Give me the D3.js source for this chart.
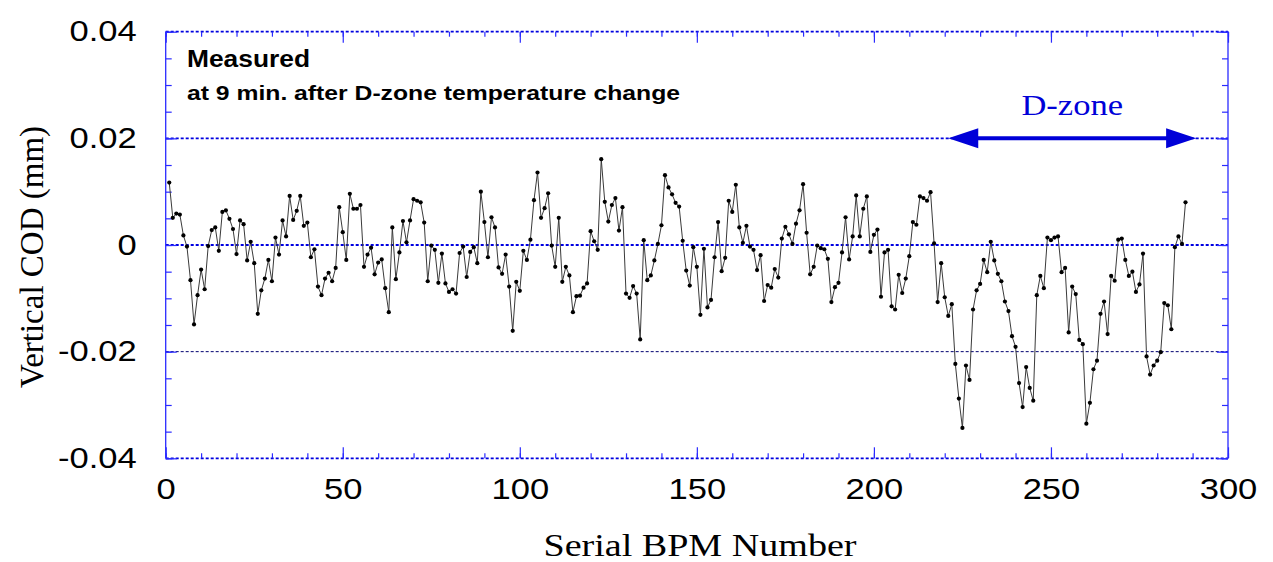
<!DOCTYPE html>
<html><head><meta charset="utf-8">
<script src="https://cdn.jsdelivr.net/npm/d3@7/dist/d3.min.js"></script>
<style>body{margin:0;background:#fff}svg{display:block}</style>
</head><body>
<svg id="chart" width="1273" height="562"></svg>
<script>
// Vertical COD (mm) for serial BPM numbers 1..288
const codValues = [
 0.0117, 0.0051, 0.0059, 0.0057, 0.0018,-0.0003,-0.0066,-0.0149,-0.0094,-0.0046,-0.0083,-0.0002,
 0.0028, 0.0033,-0.0011, 0.0062, 0.0065, 0.0049, 0.0030,-0.0017, 0.0046, 0.0039,-0.0029, 0.0006,
-0.0034,-0.0129,-0.0085,-0.0063,-0.0028,-0.0068, 0.0014,-0.0018, 0.0046, 0.0016, 0.0092, 0.0047,
 0.0064, 0.0092, 0.0036, 0.0042,-0.0023,-0.0008,-0.0078,-0.0094,-0.0063,-0.0052,-0.0068,-0.0043,
 0.0071, 0.0024,-0.0028, 0.0096, 0.0068, 0.0068, 0.0075,-0.0041,-0.0018,-0.0005,-0.0055,-0.0033,
-0.0027,-0.0081,-0.0126, 0.0033,-0.0064,-0.0014, 0.0045, 0.0005, 0.0046, 0.0086, 0.0083, 0.0080,
 0.0042,-0.0068,-0.0001,-0.0009,-0.0071,-0.0016,-0.0072,-0.0088,-0.0083,-0.0091,-0.0015,-0.0003,
-0.0060,-0.0013,-0.0004,-0.0034, 0.0100, 0.0043,-0.0023, 0.0052, 0.0033,-0.0042,-0.0054,-0.0018,
-0.0078,-0.0161,-0.0069,-0.0086,-0.0011,-0.0028, 0.0010, 0.0084, 0.0136, 0.0051, 0.0069, 0.0097,
-0.0001,-0.0041, 0.0051,-0.0069,-0.0041,-0.0057,-0.0126,-0.0096,-0.0095,-0.0080,-0.0072, 0.0026,
 0.0007,-0.0009, 0.0161, 0.0081, 0.0044, 0.0075, 0.0088, 0.0027, 0.0071,-0.0091,-0.0099,-0.0077,
-0.0091,-0.0177, 0.0009,-0.0066,-0.0057,-0.0029, 0.0002, 0.0037, 0.0131, 0.0108, 0.0095, 0.0079,
 0.0072, 0.0008,-0.0048,-0.0076,-0.0004,-0.0041,-0.0131,-0.0007,-0.0117,-0.0103,-0.0023, 0.0043,
-0.0049,-0.0024, 0.0083, 0.0062, 0.0113, 0.0033, 0.0004, 0.0036,-0.0003,-0.0009,-0.0047,-0.0019,
-0.0105,-0.0075,-0.0080,-0.0045,-0.0061, 0.0012, 0.0034, 0.0020, 0.0002, 0.0040, 0.0065, 0.0114,
 0.0023,-0.0055,-0.0041,-0.0001,-0.0006,-0.0008,-0.0026,-0.0107,-0.0079,-0.0071,-0.0014, 0.0052,
-0.0027, 0.0016, 0.0093, 0.0016, 0.0068, 0.0091,-0.0013, 0.0019, 0.0029,-0.0097,-0.0014,-0.0009,
-0.0115,-0.0121,-0.0056,-0.0090,-0.0063,-0.0021, 0.0043, 0.0038, 0.0091, 0.0088, 0.0083, 0.0099,
 0.0003,-0.0107,-0.0034,-0.0098,-0.0133,-0.0111,-0.0223,-0.0288,-0.0343,-0.0226,-0.0253,-0.0121,
-0.0085,-0.0073,-0.0028,-0.0051, 0.0006,-0.0029,-0.0054,-0.0068,-0.0106,-0.0124,-0.0171,-0.0191,
-0.0259,-0.0304,-0.0229,-0.0268,-0.0292,-0.0094,-0.0058,-0.0081, 0.0014, 0.0009, 0.0014, 0.0016,
-0.0051,-0.0043,-0.0164,-0.0078,-0.0092,-0.0178,-0.0186,-0.0335,-0.0296,-0.0233,-0.0217,-0.0129,
-0.0106,-0.0167,-0.0058,-0.0067, 0.0010, 0.0012,-0.0028,-0.0058,-0.0050,-0.0088,-0.0074,-0.0016,
-0.0209,-0.0243,-0.0226,-0.0217,-0.0201,-0.0109,-0.0113,-0.0158,-0.0004, 0.0016, 0.0002, 0.0080
];
const serialNumbers = codValues.map((v, i) => i + 1);
const xTickValues = [0, 50, 100, 150, 200, 250, 300];
const yTickValues = [-0.04, -0.02, 0, 0.02, 0.04];
const yTickLabels = ["-0.04", "-0.02", "0", "0.02", "0.04"];
const blueGridValues = [0.04, 0.02, 0, -0.04];
const darkGridValues = [-0.02];
const dZoneRange = [221, 291];
const dZoneLevel = 0.02;

const svg = d3.select("#chart");
const L = 165.7, R = 1228, T = 31.7, B = 458.3;
const x = d3.scaleLinear().domain([0, 300]).range([L, R]);
const y = d3.scaleLinear().domain([-0.04, 0.04]).range([B, T]);
const BLUE = "#2a2aff";
const SANS = "'Liberation Sans', Arial, Helvetica, sans-serif";
const SERIF = "'Liberation Serif', 'Times New Roman', serif";

// gridlines
svg.append("g").selectAll("line").data(blueGridValues).join("line")
  .attr("x1", L).attr("x2", R).attr("y1", d => y(d)).attr("y2", d => y(d))
  .attr("stroke", "#0000e0").attr("stroke-width", 1.8).attr("stroke-dasharray", "3,2");
svg.append("g").selectAll("line").data(darkGridValues).join("line")
  .attr("x1", L).attr("x2", R).attr("y1", d => y(d)).attr("y2", d => y(d))
  .attr("stroke", "#000070").attr("stroke-width", 1).attr("stroke-dasharray", "3,2");

// frame sides
svg.append("line").attr("x1", L).attr("x2", L).attr("y1", T).attr("y2", B).attr("stroke", BLUE).attr("stroke-width", 1.3);
svg.append("line").attr("x1", R).attr("x2", R).attr("y1", T).attr("y2", B).attr("stroke", BLUE).attr("stroke-width", 1.3);

// axes ticks (inward) via d3 axes
const yMinor = d3.range(-0.04, 0.0401, 0.005).map(v => +v.toFixed(3));
const xMinor = d3.range(0, 301, 10);
function tickStyle(g) {
  g.select(".domain").remove();
  g.selectAll(".tick line").attr("stroke", BLUE).attr("stroke-width", 1.2);
  g.selectAll(".tick text").remove();
}
svg.append("g").attr("transform", `translate(${L},0)`)
  .call(d3.axisRight(y).tickValues(yMinor).tickSize(6)).call(tickStyle);
svg.append("g").attr("transform", `translate(${L},0)`)
  .call(d3.axisRight(y).tickValues(yTickValues).tickSize(11)).call(tickStyle);
svg.append("g").attr("transform", `translate(${R},0)`)
  .call(d3.axisLeft(y).tickValues(yMinor).tickSize(6)).call(tickStyle);
svg.append("g").attr("transform", `translate(${R},0)`)
  .call(d3.axisLeft(y).tickValues(yTickValues).tickSize(11)).call(tickStyle);
svg.append("g").attr("transform", `translate(0,${T})`)
  .call(d3.axisBottom(x).tickValues(xMinor).tickSize(5)).call(tickStyle);
svg.append("g").attr("transform", `translate(0,${T})`)
  .call(d3.axisBottom(x).tickValues(xTickValues).tickSize(11)).call(tickStyle);
svg.append("g").attr("transform", `translate(0,${B})`)
  .call(d3.axisTop(x).tickValues(xMinor).tickSize(5)).call(tickStyle);
svg.append("g").attr("transform", `translate(0,${B})`)
  .call(d3.axisTop(x).tickValues(xTickValues).tickSize(11)).call(tickStyle);

// tick labels
const yl = svg.append("g").attr("transform", `translate(${L},0)`)
  .call(d3.axisLeft(y).tickValues(yTickValues).tickSize(0).tickPadding(29)
    .tickFormat((d, i) => yTickLabels[i]));
yl.select(".domain").remove();
yl.selectAll("text").attr("font-family", SANS).attr("font-size", 29).attr("fill", "#000").classed("stretch", true);

const xl = svg.append("g").attr("transform", `translate(0,${B})`)
  .call(d3.axisBottom(x).tickValues(xTickValues).tickSize(0).tickPadding(20).tickFormat(d3.format("d")));
xl.select(".domain").remove();
xl.selectAll("text").attr("font-family", SANS).attr("font-size", 29).attr("fill", "#000").classed("stretch", true);

// axis titles
svg.append("text").attr("x", 700).attr("y", 556).attr("text-anchor", "middle")
  .attr("font-family", SERIF).attr("font-size", 32).attr("class", "stretch").text("Serial BPM Number");
svg.append("text").attr("transform", "translate(43,257) rotate(-90)").attr("text-anchor", "middle")
  .attr("font-family", SERIF).attr("font-size", 33).text("Vertical COD (mm)");

// annotations
svg.append("text").attr("x", 187).attr("y", 67).attr("font-family", SANS).attr("font-weight", "bold")
  .attr("font-size", 23).attr("textLength", 123).attr("lengthAdjust", "spacingAndGlyphs").text("Measured");
svg.append("text").attr("x", 187).attr("y", 100).attr("font-family", SANS).attr("font-weight", "bold")
  .attr("font-size", 20).attr("textLength", 493).attr("lengthAdjust", "spacingAndGlyphs")
  .text("at 9 min. after D-zone temperature change");

// D-zone arrow
const ay = y(dZoneLevel), ax1 = x(dZoneRange[0]), ax2 = x(dZoneRange[1]);
const AH = 30, AW = 10, AC = "#0000d8";
svg.append("line").attr("x1", ax1 + AH - 2).attr("x2", ax2 - AH + 2).attr("y1", ay).attr("y2", ay)
  .attr("stroke", AC).attr("stroke-width", 4);
svg.append("path").attr("d", `M${ax1},${ay} L${ax1 + AH},${ay - AW} L${ax1 + AH},${ay + AW} Z`).attr("fill", AC);
svg.append("path").attr("d", `M${ax2},${ay} L${ax2 - AH},${ay - AW} L${ax2 - AH},${ay + AW} Z`).attr("fill", AC);
svg.append("text").attr("x", (ax1 + ax2) / 2).attr("y", 115).attr("text-anchor", "middle")
  .attr("font-family", SERIF).attr("font-size", 29).attr("fill", AC).attr("class", "stretch").text("D-zone");

// data line + markers
const pts = serialNumbers.map((s, i) => [s, codValues[i]]);
svg.append("path").datum(pts)
  .attr("d", d3.line().x(d => x(d[0])).y(d => y(d[1])))
  .attr("fill", "none").attr("stroke", "#3a3a3a").attr("stroke-width", 1);
svg.append("g").selectAll("circle").data(pts).join("circle")
  .attr("cx", d => x(d[0])).attr("cy", d => y(d[1])).attr("r", 2.1).attr("fill", "#000");

// horizontal stretch of text to match reference proportions
svg.selectAll("text.stretch").each(function () {
  const w = this.getComputedTextLength();
  d3.select(this).attr("textLength", w * 1.19).attr("lengthAdjust", "spacingAndGlyphs");
});
</script>
</body></html>
